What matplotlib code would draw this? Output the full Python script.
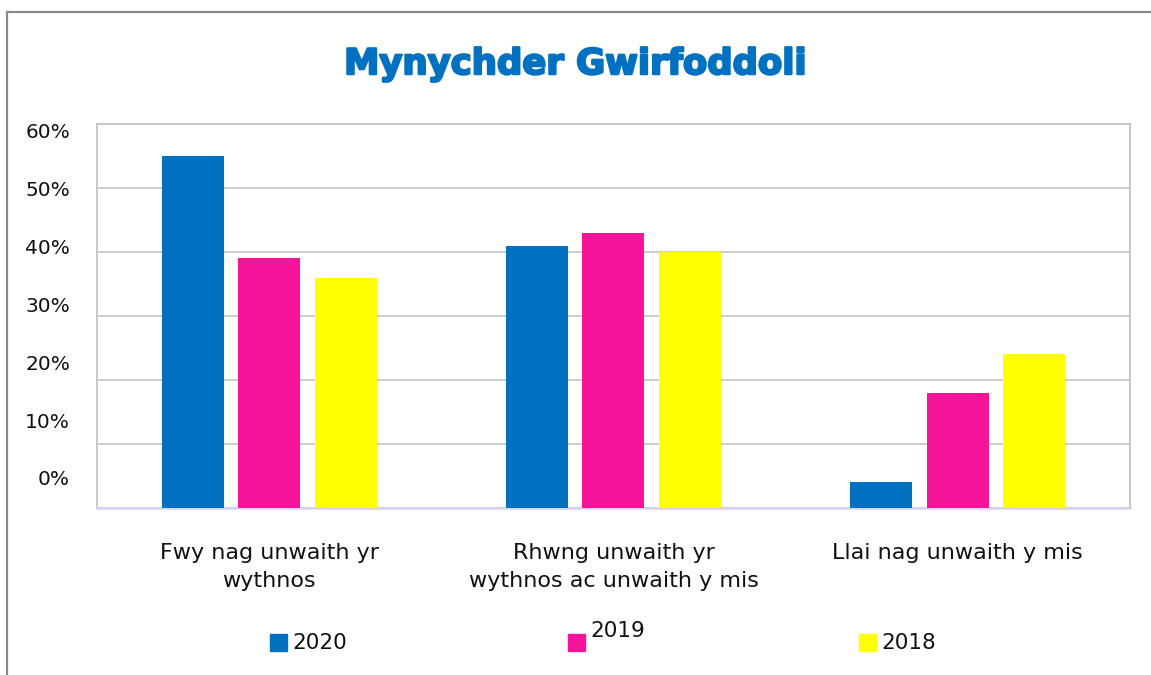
import matplotlib.pyplot as plt
import matplotlib.patheffects as pe
import numpy as np
from matplotlib.patches import Rectangle

categories = ['Fwy nag unwaith yr\nwythnos',
              'Rhwng unwaith yr\nwythnos ac unwaith y mis',
              'Llai nag unwaith y mis']
years = ['2020', '2019', '2018']
vals_2020 = [55, 41, 4]
vals_2019 = [39, 43, 18]
vals_2018 = [36, 40, 24]
tick_vals = [0, 10, 20, 30, 40, 50, 60]
colors = ['#0070C0', '#F5149A', '#FFFF00']

plt.rcParams['font.family'] = ['DejaVu Sans']

fig = plt.figure(figsize=(11.51, 6.75), dpi=100)
ax = fig.add_axes([0.0843, 0.2474, 0.8974, 0.5689])

x = np.arange(len(categories))
w = 0.18
step = 0.222
for i, (vals, c) in enumerate(zip([vals_2020, vals_2019, vals_2018], colors)):
    ax.bar(x + (i - 1) * step, vals, w, color=c, zorder=3)

ax.set_xlim(-0.5, 2.5)
ax.set_ylim(0, 60)
ax.set_yticks(tick_vals)
ax.set_yticklabels([])
ax.tick_params(axis='y', length=0)
ax.set_xticks(x)
ax.set_xticklabels(categories, fontsize=16, linespacing=1.5)
ax.tick_params(axis='x', length=0, pad=25.5, colors='#111111')
ax.grid(axis='y', color='#c8c8c8', linewidth=1.3, zorder=0)
for s in ['left', 'top', 'right']:
    ax.spines[s].set_color('#c4c4c4')
    ax.spines[s].set_linewidth(1.3)
ax.spines['bottom'].set_color('#d4d2ee')
ax.spines['bottom'].set_linewidth(1.8)

# y labels sit slightly off the gridlines in the original
ax2 = ax.twinx()
ax2.set_ylim(-5.19, 61.2)
ax2.set_yticks(tick_vals)
ax2.set_yticklabels([f'{v}%' for v in tick_vals], fontsize=14.5)
ax2.yaxis.set_ticks_position('left')
ax2.tick_params(axis='y', length=0, pad=19.5, colors='#111111')
for s in ax2.spines.values():
    s.set_visible(False)

fig.text(0.4996, 0.905, 'Mynychder Gwirfoddoli', ha='center', va='center',
         fontsize=25.5, fontweight='bold', color='#0070C0',
         path_effects=[pe.Stroke(linewidth=1.6, foreground='#0070C0'), pe.Normal()])

# legend
leg_x = [0.2346, 0.4935, 0.7463]
leg_dy = [0, 0.018, 0]
for lx, dy, yr, c in zip(leg_x, leg_dy, years, colors):
    fig.add_artist(Rectangle((lx, 1 - 651 / 675), 17 / 1151, 17 / 675,
                             transform=fig.transFigure, color=c))
    fig.text(lx + 22 / 1151, 1 - 643 / 675 + dy, yr, ha='left', va='center',
             fontsize=15.5, color='#111111')

# outer frame
fig.add_artist(Rectangle((7 / 1151, -0.1), 1.2, 1.1 - 12 / 675,
                         transform=fig.transFigure, fill=False,
                         edgecolor='#8a8a8a', linewidth=1.6))

plt.savefig('out.png', dpi=100)
